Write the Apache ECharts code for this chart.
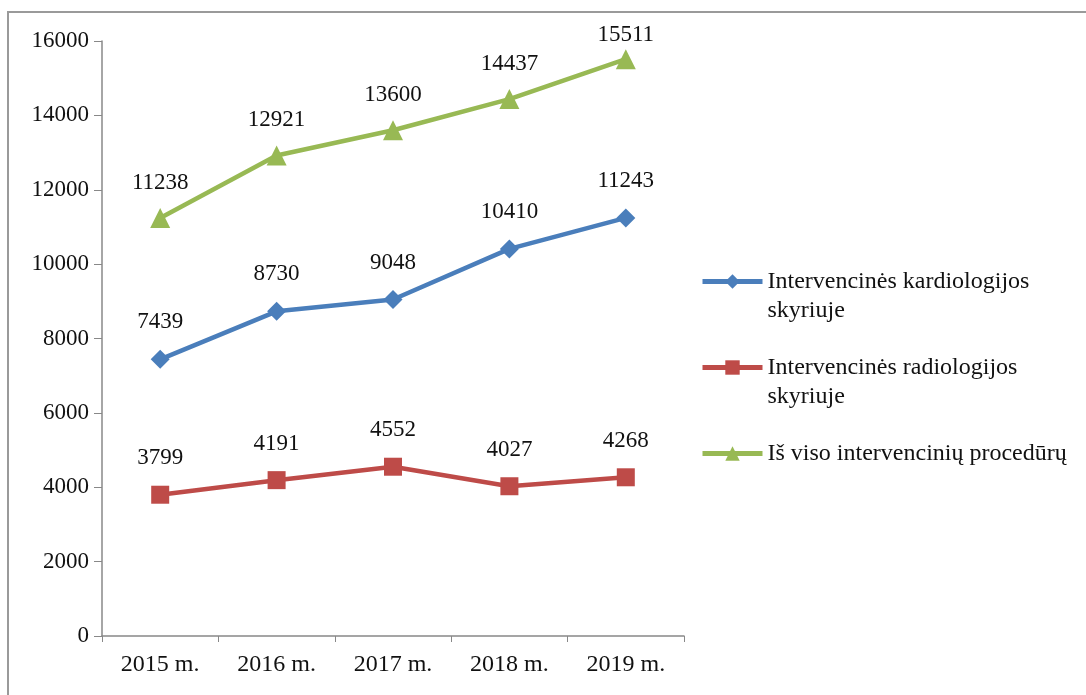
<!DOCTYPE html>
<html>
<head>
<meta charset="utf-8">
<script src="https://cdn.jsdelivr.net/npm/echarts@6/dist/echarts.min.js"></script>
<style>
html,body{margin:0;padding:0;background:#fff;}
#chart{width:1086px;height:695px;}
</style>
</head>
<body>
<div id="chart"></div>
<script>
const categories = ['2015 m.', '2016 m.', '2017 m.', '2018 m.', '2019 m.'];
const kardiologija = [7439, 8730, 9048, 10410, 11243];
const radiologija = [3799, 4191, 4552, 4027, 4268];
const isViso = [11238, 12921, 13600, 14437, 15511];
const seriesNames = ['Intervencinės kardiologijos\nskyriuje', 'Intervencinės radiologijos\nskyriuje', 'Iš viso intervencinių procedūrų'];
const yTicks = { min: 0, max: 16000, interval: 2000 };

const font = '"Liberation Serif", "Times New Roman", serif';
const chart = echarts.init(document.getElementById('chart'));
function mk(name, data, color, symbol, size, dist) {
  return {
    name: name, type: 'line', data: data,
    symbol: symbol, symbolSize: size,
    lineStyle: { color: color, width: 4.5 },
    itemStyle: { color: color },
    label: { show: true, position: 'top', distance: dist, color: '#111', fontSize: 23, fontFamily: font },
    emphasis: { disabled: true },
    z: 3
  };
}
// last total label sits closer to its marker (near the top of the plot)
const isVisoData = isViso.map((v, i) => i === isViso.length - 1 ? { value: v, label: { distance: 3 } } : v);
chart.setOption({
  animation: false,
  backgroundColor: '#fff',
  textStyle: { fontFamily: font },
  graphic: [{
    type: 'rect', shape: { x: 8, y: 12, width: 1100, height: 700 },
    style: { fill: 'none', stroke: '#9a9a9a', lineWidth: 2 }, silent: true
  }],
  grid: { left: 102, top: 41, width: 582, height: 595, containLabel: false },
  xAxis: {
    type: 'category', data: categories, boundaryGap: true,
    axisLine: { lineStyle: { color: '#888', width: 1.5 } },
    axisTick: { show: true, length: 6, lineStyle: { color: '#888' } },
    axisLabel: { color: '#111', fontSize: 24, fontFamily: font, margin: 17 }
  },
  yAxis: {
    type: 'value', min: yTicks.min, max: yTicks.max, interval: yTicks.interval,
    axisLine: { show: true, lineStyle: { color: '#888', width: 1.5 } },
    axisTick: { show: true, length: 8, lineStyle: { color: '#888' } },
    splitLine: { show: false },
    axisLabel: { color: '#111', fontSize: 23, fontFamily: font, margin: 13, formatter: v => String(v) }
  },
  legend: {
    orient: 'vertical', left: 695, top: 233,
    itemWidth: 60, itemHeight: 18, itemGap: -1,
    lineStyle: { width: 5 },
    // first text line aligned with the legend marker, as in the reference
    formatter: name => name.indexOf('\n') >= 0 ? '\n' + name : '\n' + name + '\n',
    textStyle: { color: '#111', fontSize: 24, fontFamily: font, lineHeight: 29 },
    data: seriesNames
  },
  series: [
    mk(seriesNames[0], kardiologija, '#4a7ebb', 'diamond', 19, 16),
    mk(seriesNames[1], radiologija, '#be4b48', 'rect', 18, 16),
    mk(seriesNames[2], isVisoData, '#98b954', 'triangle', 20, 14)
  ]
});
</script>
</body>
</html>
